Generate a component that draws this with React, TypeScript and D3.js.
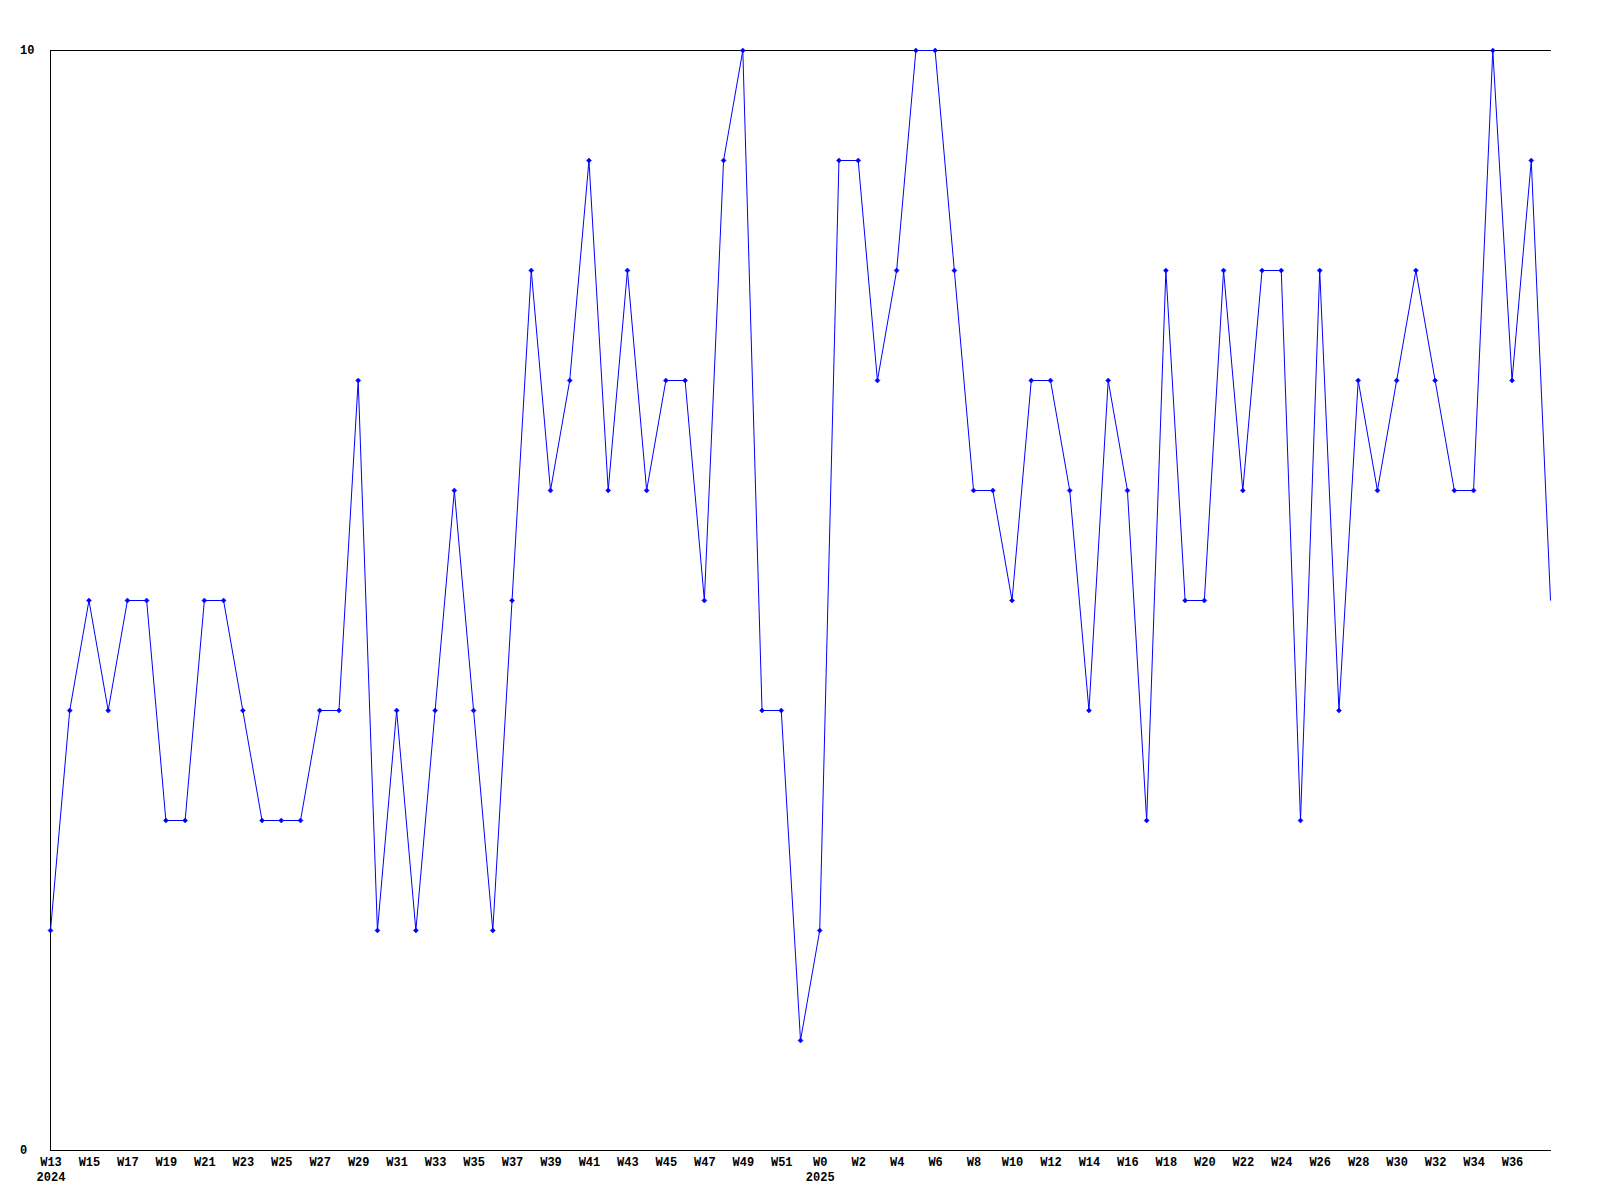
import React from "react";
import * as d3 from "d3";

const weeks2024: number[] = [13,14,15,16,17,18,19,20,21,22,23,24,25,26,27,28,29,30,31,32,33,34,35,36,37,38,39,40,41,42,43,44,45,46,47,48,49,50,51,52];
const weeks2025: number[] = [0,1,2,3,4,5,6,7,8,9,10,11,12,13,14,15,16,17,18,19,20,21,22,23,24,25,26,27,28,29,30,31,32,33,34,35,36,37,38];
const values: number[] = [
  2,4,5,4,5,5,3,3,5,5,4,3,3,3,4,4,7,2,4,2,4,6,4,2,5,8,6,7,9,6,8,6,7,7,5,9,10,4,4,1,
  2,9,9,7,8,10,10,8,6,6,5,7,7,6,4,7,6,3,8,5,5,8,6,8,8,3,8,4,7,6,7,8,7,6,6,10,7,9,5,
];
const yTicks: number[] = [0, 10];

type Pt = { year: number; week: number; value: number; idx: number };
const points: Pt[] = [
  ...weeks2024.map((w) => ({ year: 2024, week: w })),
  ...weeks2025.map((w) => ({ year: 2025, week: w })),
].map((d, i) => ({ ...d, value: values[i], idx: i }));

export default function App() {
  const W = 1600, H = 1200;
  const left = 50, right = 1550, top = 50, bottom = 1150;
  const x = d3.scaleLinear().domain([0, points.length - 1]).range([left, right]);
  const y = d3.scaleLinear().domain([0, 10]).range([bottom, top]);
  const line = d3.line<Pt>().x((d) => x(d.idx) + 0.5).y((d) => y(d.value) + 0.5);
  const font = "'Liberation Mono', 'DejaVu Sans Mono', monospace";
  const tickPts = points.filter((d) => d.idx % 2 === 0 && d.idx < points.length - 1);
  const yearPts = points.filter((d, i) => i === 0 || points[i - 1].year !== d.year);
  return (
    <svg width={W} height={H} style={{ position: "absolute", left: 0, top: 0, background: "#fff" }}>
      <rect x={0} y={0} width={W} height={H} fill="#fff" />
      <line x1={left + 0.5} x2={left + 0.5} y1={top} y2={bottom + 1} stroke="#000" />
      <line x1={left} x2={right + 1} y1={top + 0.5} y2={top + 0.5} stroke="#000" />
      <line x1={left} x2={right + 1} y1={bottom + 0.5} y2={bottom + 0.5} stroke="#000" />
      {yTicks.map((t) => (
        <text key={t} x={20} y={y(t) + 4} fontFamily={font} fontWeight="bold" fontSize={12} fill="#000">{t}</text>
      ))}
      {tickPts.map((d) => (
        <text key={d.idx} x={x(d.idx) + 1} y={1166} textAnchor="middle" fontFamily={font} fontWeight="bold" fontSize={12} fill="#000">{`W${d.week}`}</text>
      ))}
      {yearPts.map((d) => (
        <text key={"y" + d.idx} x={x(d.idx) + 1} y={1181} textAnchor="middle" fontFamily={font} fontWeight="bold" fontSize={12} fill="#000">{d.year}</text>
      ))}
      <path d={line(points) || ""} fill="none" stroke="#0000ff" strokeWidth={1} />
      {points.slice(0, -1).map((d) => {
        const cx = x(d.idx) + 0.5, cy = y(d.value) + 0.5;
        return (
          <path key={"m" + d.idx} d={`M${cx - 2.5},${cy}L${cx},${cy - 2.5}L${cx + 2.5},${cy}L${cx},${cy + 2.5}Z`} fill="#0000ff" stroke="#0000ff" strokeWidth={0.5} />
        );
      })}
    </svg>
  );
}
